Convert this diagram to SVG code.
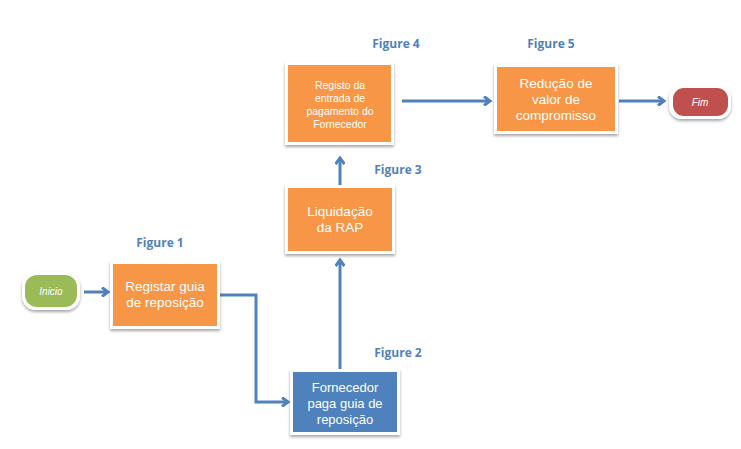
<svg xmlns="http://www.w3.org/2000/svg" width="741" height="449" viewBox="0 0 741 449">
<defs>
<filter id="sh" x="-20%" y="-20%" width="140%" height="150%">
<feGaussianBlur in="SourceAlpha" stdDeviation="1.5"/>
<feOffset dx="0" dy="2" result="b"/>
<feComponentTransfer><feFuncA type="linear" slope="0.35"/></feComponentTransfer>
<feMerge><feMergeNode/><feMergeNode in="SourceGraphic"/></feMerge>
</filter>
<marker id="ah" markerWidth="10" markerHeight="10" refX="7" refY="5" orient="auto" markerUnits="userSpaceOnUse">
<polyline points="1,0.5 7,5 1,9.5" fill="none" stroke="#4F81BD" stroke-width="3"/>
</marker>
</defs>
<style>
.frame{fill:#ffffff;filter:url(#sh)}
.or{fill:#F79646}
.bl{fill:#4F81BD}
.gr{fill:#9BBB59}
.rd{fill:#C0504D}
.t{font-family:"Liberation Sans","Open Sans",sans-serif;fill:#ffffff;text-anchor:middle}
.fig{font-family:"Open Sans","Noto Sans",sans-serif;font-weight:bold;font-size:12px;fill:#4F81BD;text-anchor:middle}
.c{fill:none;stroke:#4F81BD;stroke-width:3;marker-end:url(#ah)}
</style>
<rect width="741" height="449" fill="#ffffff"/>
<g id="connectors">
<path class="c" d="M84,292 H108"/>
<path class="c" d="M220,295 H256 V402 H288"/>
<path class="c" d="M340,369 V260"/>
<path class="c" d="M340,185 V158"/>
<path class="c" d="M402,101 H490"/>
<path class="c" d="M619,101 H664"/>
</g>
<g id="inicio">
<rect class="frame" x="22" y="272" width="58" height="38" rx="14"/>
<rect class="gr" x="25" y="275" width="52" height="32" rx="12"/>
<text class="t" x="51" y="295" font-size="10" font-style="italic">Inicio</text>
</g>
<g id="registar">
<text class="fig" x="160" y="247">Figure 1</text>
<rect class="frame" x="110" y="261" width="110" height="68"/>
<rect class="or" x="113" y="264" width="104" height="62"/>
<text class="t" x="165" y="291" font-size="13.5">Registar guia</text>
<text class="t" x="165" y="307" font-size="13.5">de reposição</text>
</g>
<g id="fornecedor">
<text class="fig" x="398" y="357">Figure 2</text>
<rect class="frame" x="290" y="369" width="110" height="66"/>
<rect class="bl" x="293" y="372" width="104" height="60"/>
<text class="t" x="345" y="392" font-size="13">Fornecedor</text>
<text class="t" x="345" y="408" font-size="13">paga guia de</text>
<text class="t" x="345" y="424" font-size="13">reposição</text>
</g>
<g id="liquidacao">
<text class="fig" x="398" y="174">Figure 3</text>
<rect class="frame" x="285" y="185" width="110" height="69"/>
<rect class="or" x="288" y="188" width="104" height="63"/>
<text class="t" x="340" y="216" font-size="13.5">Liquidação</text>
<text class="t" x="340" y="232" font-size="13.5">da RAP</text>
</g>
<g id="registo">
<text class="fig" x="396" y="48">Figure 4</text>
<rect class="frame" x="285" y="62" width="109" height="83"/>
<rect class="or" x="288" y="65" width="103" height="77"/>
<text class="t" x="340" y="89" font-size="10.5">Registo da</text>
<text class="t" x="340" y="102" font-size="10.5">entrada de</text>
<text class="t" x="340" y="115" font-size="10.5">pagamento do</text>
<text class="t" x="340" y="128" font-size="10.5">Fornecedor</text>
</g>
<g id="reducao">
<text class="fig" x="551" y="48">Figure 5</text>
<rect class="frame" x="494" y="64" width="124" height="70"/>
<rect class="or" x="497" y="67" width="118" height="64"/>
<text class="t" x="556" y="88" font-size="13.5">Redução de</text>
<text class="t" x="556" y="104" font-size="13.5">valor de</text>
<text class="t" x="556" y="120" font-size="13.5">compromisso</text>
</g>
<g id="fim">
<rect class="frame" x="669" y="85" width="62" height="34" rx="13"/>
<rect class="rd" x="673" y="88" width="55" height="28" rx="11"/>
<text class="t" x="700" y="106" font-size="10" font-style="italic">Fim</text>
</g>
</svg>
